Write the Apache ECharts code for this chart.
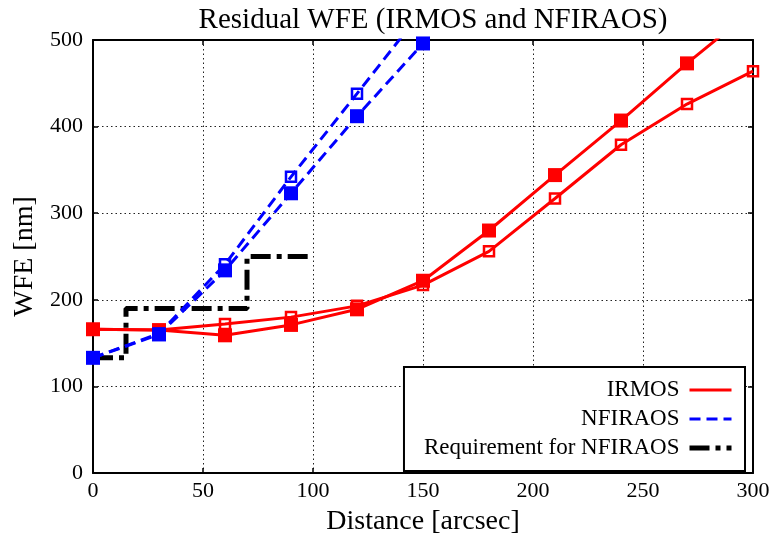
<!DOCTYPE html>
<html>
<head>
<meta charset="utf-8">
<script src="https://cdn.jsdelivr.net/npm/echarts@6/dist/echarts.min.js"></script>
<style>
  html, body { margin: 0; padding: 0; background: #fff; }
  #chart { width: 774px; height: 541px; }
</style>
</head>
<body>
<div id="chart"></div>
<script>
// data
const distance = [0, 30, 60, 90, 120, 150, 180, 210, 240, 270, 300];
const irmosFilled = [166, 165, 159, 171, 189, 222, 280, 344, 407, 473, 535];
const irmosOpen = [166, 165, 172, 180, 193, 217, 256, 317, 379, 426, 464];

const nfiraosDist = [0, 30, 60, 90, 120, 150];
const nfiraosFilled = [133, 160, 234, 323, 412, 496];
const nfiraosOpen = [133, 161, 241, 342, 438, 535];

const reqDist = [0, 15, 15, 70, 70, 100];
const reqWfe = [133, 133, 190, 190, 250, 250];

const xTicks = [0, 50, 100, 150, 200, 250, 300];
const yTicks = [0, 100, 200, 300, 400, 500];

const FONT = 'Liberation Serif';

function pairs(xs, ys) {
    return xs.map((x, i) => [x, ys[i]]);
}

var chart = echarts.init(document.getElementById('chart'));

var gridLine = { show: true, lineStyle: { color: '#222', width: 1, type: [1.5, 3] } };
var frameLine = { show: true, onZero: false, lineStyle: { color: '#000', width: 2 } };
var tickIn = { show: true, inside: true, length: 5, lineStyle: { color: '#000', width: 1.5 } };

var xBase = { type: 'value', min: xTicks[0], max: xTicks[xTicks.length - 1], interval: 50 };
var yBase = { type: 'value', min: yTicks[0], max: yTicks[yTicks.length - 1], interval: 100 };

var option = {
    animation: false,
    backgroundColor: '#fff',
    title: {
        text: 'Residual WFE (IRMOS and NFIRAOS)',
        left: 431,
        textAlign: 'center',
        top: 4,
        padding: 2,
        textStyle: { fontFamily: FONT, fontSize: 29, fontWeight: 'normal', color: '#000' }
    },
    grid: { left: 93, right: 21, top: 40, bottom: 63 },
    legend: {
        data: ['IRMOS', 'NFIRAOS', 'Requirement for NFIRAOS'],
        orient: 'vertical',
        align: 'right',
        right: 29,
        top: 367,
        padding: [11, 11, 11, 20],
        itemGap: 5,
        itemWidth: 42,
        itemHeight: 14,
        backgroundColor: '#fff',
        borderColor: '#000',
        borderWidth: 2,
        borderRadius: 0,
        itemStyle: { opacity: 0 },
        lineStyle: { width: 'inherit' },
        textStyle: { fontFamily: FONT, fontSize: 23, color: '#000', lineHeight: 24, padding: [0, 5, 0, 0] }
    },
    xAxis: [
        Object.assign({}, xBase, {
            position: 'bottom',
            name: 'Distance [arcsec]',
            nameLocation: 'middle',
            nameGap: 35,
            nameTextStyle: { fontFamily: FONT, fontSize: 28, color: '#000' },
            axisLine: frameLine,
            axisTick: tickIn,
            axisLabel: { fontFamily: FONT, fontSize: 22, color: '#000', margin: 7 },
            splitLine: gridLine
        }),
        Object.assign({}, xBase, {
            position: 'top',
            axisLine: frameLine,
            axisTick: tickIn,
            axisLabel: { show: false },
            splitLine: { show: false }
        })
    ],
    yAxis: [
        Object.assign({}, yBase, {
            position: 'left',
            name: 'WFE [nm]',
            nameLocation: 'middle',
            nameGap: 54,
            nameTextStyle: { fontFamily: FONT, fontSize: 28, color: '#000' },
            axisLine: frameLine,
            axisTick: tickIn,
            axisLabel: { fontFamily: FONT, fontSize: 22, color: '#000', margin: 10 },
            splitLine: gridLine
        }),
        Object.assign({}, yBase, {
            position: 'right',
            axisLine: frameLine,
            axisTick: tickIn,
            axisLabel: { show: false },
            splitLine: { show: false }
        })
    ],
    series: [
        {
            name: 'Requirement for NFIRAOS',
            type: 'line',
            data: pairs(reqDist, reqWfe),
            symbol: 'none',
            lineStyle: { color: '#000', width: 5, type: [20, 6, 5, 6], cap: 'butt' },
            itemStyle: { color: '#000' }
        },
        {
            name: 'IRMOS',
            type: 'line',
            data: pairs(distance, irmosFilled),
            symbol: 'rect',
            symbolSize: 14,
            lineStyle: { color: '#ff0000', width: 3 },
            itemStyle: { color: '#ff0000' }
        },
        {
            name: 'IRMOS',
            type: 'line',
            data: pairs(distance, irmosOpen),
            symbol: 'rect',
            symbolSize: 10,
            lineStyle: { color: '#ff0000', width: 3 },
            itemStyle: { color: 'rgba(0,0,0,0)', borderColor: '#ff0000', borderWidth: 2.5 }
        },
        {
            name: 'NFIRAOS',
            type: 'line',
            data: pairs(nfiraosDist, nfiraosFilled),
            symbol: 'rect',
            symbolSize: 14,
            lineStyle: { color: '#0000ff', width: 3, type: [11, 6] },
            itemStyle: { color: '#0000ff' }
        },
        {
            name: 'NFIRAOS',
            type: 'line',
            data: pairs(nfiraosDist, nfiraosOpen),
            symbol: 'rect',
            symbolSize: 10,
            lineStyle: { color: '#0000ff', width: 3, type: [11, 6] },
            itemStyle: { color: 'rgba(0,0,0,0)', borderColor: '#0000ff', borderWidth: 2.5 }
        }
    ]
};

chart.setOption(option);
</script>
</body>
</html>
